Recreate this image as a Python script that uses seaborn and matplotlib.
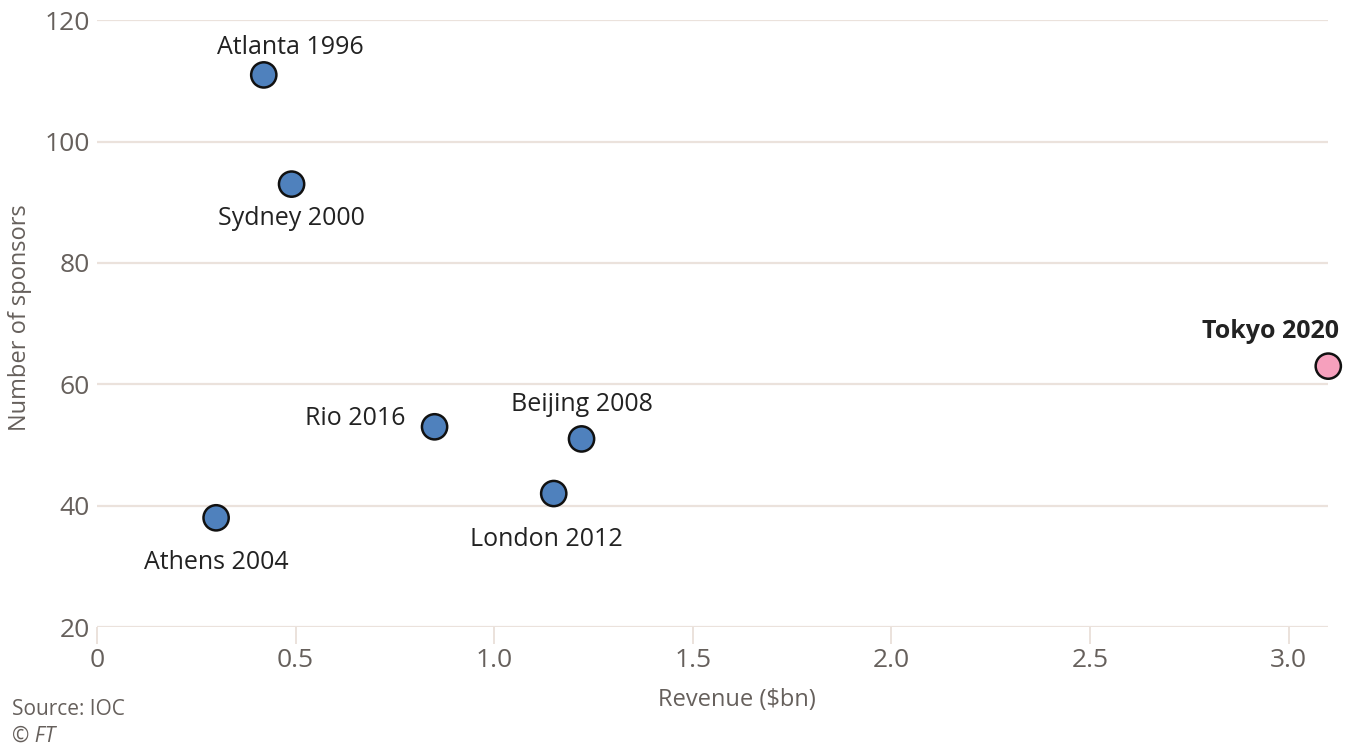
import pandas as pd
import matplotlib.pyplot as plt
import seaborn as sns

# data
games = ['Atlanta 1996', 'Sydney 2000', 'Athens 2004', 'Beijing 2008',
         'London 2012', 'Rio 2016', 'Tokyo 2020']
revenue = [0.42, 0.49, 0.30, 1.22, 1.15, 0.85, 3.10]
sponsors = [111, 93, 38, 51, 42, 53, 63]
group = ['past', 'past', 'past', 'past', 'past', 'past', 'tokyo']

df = pd.DataFrame({'games': games, 'revenue': revenue,
                   'sponsors': sponsors, 'group': group})

sns.set_style('white')
plt.rcParams['font.family'] = ['Open Sans', 'DejaVu Sans']

grid_col = '#ebe2dc'
tick_col = '#66605c'

fig = plt.figure(figsize=(13.54, 7.52), dpi=100)
ax = fig.add_axes([0.0716, 0.1662, 0.9094, 0.8068])

sns.scatterplot(data=df, x='revenue', y='sponsors', hue='group',
                palette={'past': '#4f81bd', 'tokyo': '#f6a0bd'},
                s=330, edgecolor='#111111', linewidth=1.8,
                legend=False, clip_on=False, zorder=3, ax=ax)

ax.set_xlim(0, 3.1)
ax.set_ylim(20, 120)
ax.set_xticks([0, 0.5, 1.0, 1.5, 2.0, 2.5, 3.0])
ax.set_xticklabels(['0', '0.5', '1.0', '1.5', '2.0', '2.5', '3.0'])
ax.set_yticks([20, 40, 60, 80, 100, 120])
ax.yaxis.grid(True, color=grid_col, linewidth=1.6)
ax.xaxis.grid(False)
for sp in ax.spines.values():
    sp.set_visible(False)
ax.tick_params(axis='x', length=12, width=1.4, color=grid_col,
               labelsize=19, labelcolor=tick_col, pad=3, direction='out',
               bottom=True)
ax.tick_params(axis='y', length=0, labelsize=19, labelcolor=tick_col, pad=5)

ax.set_xlabel('Revenue ($bn)', fontsize=17, color=tick_col)
ax.set_ylabel('Number of sponsors', fontsize=17, color=tick_col)
ax.xaxis.set_label_coords(0.52, -0.1)
ax.yaxis.set_label_coords(-0.053, 0.51)

# label offsets in points (dx, dy, ha)
offsets = {
    'Atlanta 1996': (19, 20, 'center'),
    'Sydney 2000': (0, -25, 'center'),
    'Athens 2004': (0, -32, 'center'),
    'Beijing 2008': (0, 25, 'center'),
    'London 2012': (-5, -33, 'center'),
    'Rio 2016': (-21, 6, 'right'),
    'Tokyo 2020': (8, 25, 'right'),
}
for _, r in df.iterrows():
    dx, dy, ha = offsets[r['games']]
    ax.annotate(r['games'], (r['revenue'], r['sponsors']),
                xytext=(dx, dy), textcoords='offset points',
                ha=ha, va='center', fontsize=18, color='#222222',
                fontweight='bold' if r['group'] == 'tokyo' else 'normal',
                annotation_clip=False)

fig.text(0.009, 0.056, 'Source: IOC', fontsize=15, color=tick_col, va='center')
fig.text(0.009, 0.021, '© FT', fontsize=15, color=tick_col, va='center',
         style='italic')

fig.savefig('out.png', dpi=100)
